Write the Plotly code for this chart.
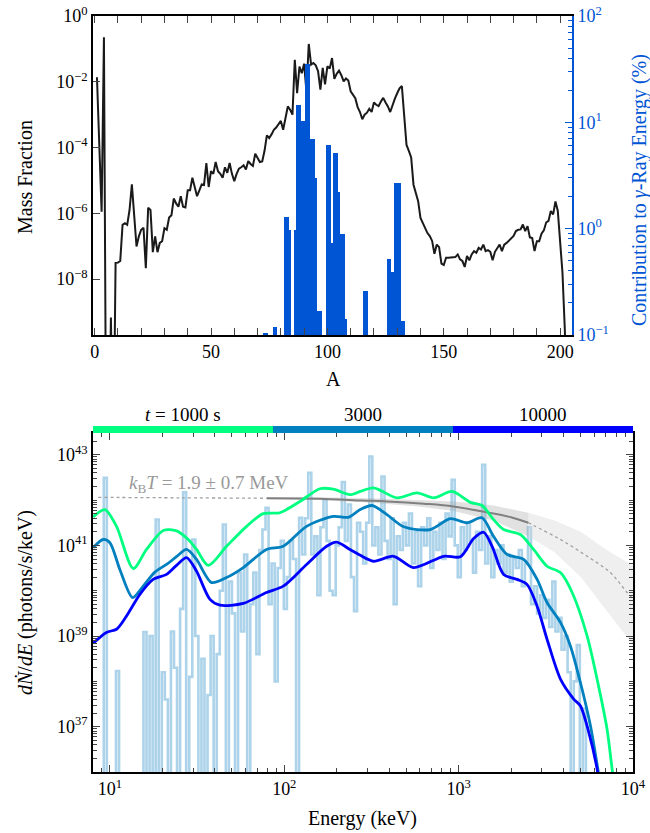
import numpy as np
import plotly.graph_objects as go

# ---------------- top panel data ----------------
mass_A = list(range(1, 204))
mass_log10 = [
    -1.86, -3.9, -5.95, -0.65, -14, -14, -9.17, -14, -7.51, -7.5,
    -7.45, -6.35, -6.3, -6.35, -5.9, -5.12, -6.2, -7.01, -6.7, -6.5,
    -6.44, -7.67, -5.83, -5.9, -7.18, -6.7, -7.18, -6.9, -6.85, -6.45,
    -6.5, -6.13, -6.06, -5.55, -5.7, -5.8, -5.48, -5.8, -5.82, -5.3,
    -5.3, -4.92, -5.2, -5.48, -5.3, -5.12, -5.14, -4.47, -5.2, -4.72,
    -4.8, -4.44, -4.72, -4.8, -4.92, -4.6, -4.77, -4.47, -4.8, -5.02,
    -4.8, -4.64, -4.6, -4.54, -4.67, -4.41, -4.5, -4.56, -4.19, -4.3,
    -4.44, -4.42, -4.1, -3.63, -3.71, -3.6, -3.46, -3.39, -3.3, -3.19,
    -3.46, -3.1, -2.75, -2.85, -3.0, -1.33, -2.35, -1.54, -1.74, -1.45,
    -2.29, -0.85, -1.48, -1.43, -1.5, -1.68, -2.24, -1.58, -2.08, -1.53,
    -1.6, -1.28, -1.91, -1.76, -1.66, -1.8, -1.99, -1.9, -1.96, -2.29,
    -2.39, -2.5, -2.77, -2.92, -3.14, -3.0, -2.94, -2.82, -2.92, -2.63,
    -2.7, -2.74, -2.6, -2.49, -2.63, -2.75, -2.92, -2.7, -2.51, -2.35,
    -2.2, -2.13, -3.01, -3.92, -4.1, -4.3, -5.13, -5.4, -5.63, -6.14,
    -6.3, -6.49, -6.6, -6.69, -6.84, -7.23, -6.95, -7.03, -7.53, -7.57,
    -7.35, -7.35, -7.35, -7.33, -7.33, -7.25, -7.4, -7.45, -7.63, -7.3,
    -7.43, -7.25, -7.15, -7.2, -7.05, -7.1, -6.95, -7.15, -7.12, -7.17,
    -7.43, -7.17, -7.05, -6.95, -7.15, -6.95, -6.9, -6.83, -6.75, -6.69,
    -6.54, -6.5, -6.49, -6.34, -6.54, -6.39, -6.73, -6.75, -7.15, -6.85,
    -6.85, -6.62, -6.52, -6.28, -6.23, -5.93, -6.03, -5.64, -5.93, -6.85,
    -7.8, -9.5, -12,
]
mass_frac = [10.0 ** v for v in mass_log10]

bar_A = [73, 74, 77, 78, 82, 83, 84, 86, 87, 88, 89, 90, 91, 92, 93, 94, 95, 96, 97,
         100, 101, 102, 103, 104, 105, 106, 107, 108, 116, 117,
         126, 127, 128, 129, 130, 131, 132, 133]
bar_pct = [0.105, 0.105, 0.12, 0.12, 1.28, 1.28, 0.97, 0.97, 14.7, 14.7, 10.2, 10.2, 35, 35, 7.0, 7.0, 3.0, 0.17, 0.17,
           6.1, 6.1, 0.74, 5.1, 5.1, 2.2, 0.9, 0.9, 0.14, 0.26, 0.26,
           0.52, 0.52, 0.39, 2.7, 2.7, 2.7, 0.135, 0.135]

# ---------------- bottom panel data ----------------
Z = 30.0  # empty / non-positive bin (drawn off the bottom)
spec_log10 = [
    Z, Z, 42.49, Z, Z, Z, 38.23, Z, Z, Z, Z, Z, Z, Z, Z,
    39.09, Z, 39.0, Z, 41.57, Z, 38.2, 37.6, Z, 39.1, 38.3, Z, 39.6, 42.17, Z,
    38.1, 41.13, 39.0, Z, 38.5, Z, 37.7, 39.0, Z, 38.6, 40.0, 41.46, Z, 40.2, 39.5,
    Z, 40.4, 39.1, 40.8, Z, 39.7, 40.4, 38.6, 40.9, 41.35, 41.83, 39.7, 40.6, 38.0, 40.5,
    41.1, 39.6, 40.3, 41.1, 40.7, Z, 41.61, 40.8, 41.6, 42.6, 40.8, 41.2, 39.9, 41.4, 42.0,
    41.1, 40.0, 39.9, 41.0, 41.4, 42.4, 41.1, 41.9, 40.3, 39.55, 41.5, 41.3, 40.6, 41.5, 42.96,
    41.0, 41.4, 40.8, 42.52, 41.1, 40.7, 41.6, 39.7, 41.2, 40.9, 41.5, 41.0, 41.7, 40.6, 41.3,
    40.1, 41.4, 41.0, 41.6, 40.5, 41.3, 40.9, 41.5, 40.7, 41.7, 41.2, 42.45, 41.0, 40.3, 41.4,
    40.9, 41.5, 41.1, 40.4, 41.3, 40.9, 42.78, 40.6, 41.2, 40.3, 40.9, 40.6, 41.0, 40.4, 40.8,
    40.2, 40.7, 40.5, 40.9, 40.1, 40.6, 41.4, 39.7, 40.1, 39.5, 39.9, 39.4, 39.8, 39.2, 40.2,
    39.1, 39.4, 38.7, 39.0, 38.2, Z, 38.0, 38.8, Z, 37.4, Z,
]
spec_E = [float(v) for v in np.logspace(0.93, 0.93 + 0.0175 * (len(spec_log10) - 1), len(spec_log10))]
spec_flux = [10.0 ** v for v in spec_log10]

green_logE = [0.904, 0.971, 1.038, 1.134, 1.21, 1.306, 1.382, 1.449, 1.497, 1.564, 1.669, 1.784,
              1.879, 1.975, 2.09, 2.205, 2.281, 2.377, 2.436, 2.512, 2.647, 2.761, 2.857, 2.962,
              3.067, 3.134, 3.2, 3.258, 3.354, 3.43, 3.507, 3.584, 3.651, 3.737, 3.794, 3.851, 3.88, 3.9]
green_log = [41.63, 41.79, 41.42, 40.49, 40.91, 41.33, 41.32, 41.13, 40.91, 40.56, 40.98, 41.42,
             41.70, 41.72, 41.97, 42.25, 42.24, 42.12, 42.19, 42.27, 42.05, 42.16, 42.05, 42.19,
             41.95, 41.88, 41.57, 41.35, 41.24, 40.91, 40.54, 40.40, 39.96, 39.0, 38.05, 36.95, 36.07, 35.5]

teal_logE = [0.904, 0.962, 1.0, 1.057, 1.13, 1.191, 1.258, 1.325, 1.382, 1.44, 1.497, 1.583,
             1.669, 1.765, 1.898, 1.994, 2.128, 2.281, 2.367, 2.436, 2.503, 2.589, 2.685, 2.838,
             2.952, 3.048, 3.134, 3.2, 3.278, 3.373, 3.45, 3.507, 3.584, 3.641, 3.698, 3.756, 3.798, 3.82]
teal_log = [40.95, 41.13, 41.06, 40.47, 39.85, 40.10, 40.41, 40.58, 40.75, 40.91, 40.69, 40.18,
            40.29, 40.51, 40.91, 40.98, 41.42, 41.64, 41.62, 41.79, 41.88, 41.68, 41.41, 41.35,
            41.59, 41.50, 41.61, 41.20, 40.80, 40.69, 40.25, 39.74, 39.30, 38.78, 37.98, 37.02, 36.07, 35.5]

blue_logE = [0.904, 0.98, 1.038, 1.095, 1.172, 1.248, 1.325, 1.382, 1.44, 1.497, 1.574, 1.631,
             1.765, 1.898, 1.994, 2.128, 2.243, 2.3, 2.377, 2.436, 2.512, 2.627, 2.742, 2.914,
             3.01, 3.086, 3.143, 3.192, 3.258, 3.335, 3.392, 3.45, 3.507, 3.584, 3.66, 3.698,
             3.746, 3.794, 3.815]
blue_log = [38.84, 39.08, 39.15, 39.44, 39.92, 40.25, 40.36, 40.56, 40.73, 40.43, 39.81, 39.68,
            39.72, 39.96, 40.10, 40.58, 40.98, 41.07, 40.91, 40.78, 40.65, 40.76, 40.51, 40.76,
            40.75, 41.15, 41.29, 40.98, 40.36, 40.25, 40.14, 39.66, 38.93, 38.05, 37.61, 37.46,
            36.88, 36.07, 35.5]

fit_logE = [1.9, 2.2, 2.45, 2.59, 2.8, 2.97, 3.16, 3.3, 3.4]
fit_log = [42.04, 42.03, 41.99, 41.97, 41.92, 41.86, 41.73, 41.62, 41.50]
fitext_lo_logE = [0.933, 1.4, 1.9]
fitext_lo_log = [42.06, 42.05, 42.04]
fitext_hi_logE = [3.4, 3.43, 3.584, 3.737, 3.87, 3.966, 4.0]
fitext_hi_log = [41.50, 41.44, 41.13, 40.76, 40.40, 39.96, 39.82]

band_in_logE = [1.9, 2.2, 2.5, 2.77, 2.97, 3.2, 3.4]
band_in_lo = [42.02, 42.0, 41.94, 41.86, 41.76, 41.55, 41.2]
band_in_hi = [42.06, 42.06, 42.04, 42.0, 41.97, 41.88, 41.72]
band_out_logE = [3.4, 3.55, 3.7, 3.85, 4.0]
band_out_lo = [41.2, 40.85, 40.3, 39.55, 38.8]
band_out_hi = [41.72, 41.55, 41.3, 40.9, 40.55]

times = ["<i>t</i> = 1000 s", "3000", "10000"]
time_colors = ["#00ff80", "#0080bf", "#0000ff"]

# ---------------- figure ----------------
FONT = "Liberation Serif"
BAR_BLUE = "#0055d4"
MINUS = "\u2212"


def sup(e):
    s = str(e).replace("-", MINUS)
    return f"10<sup>{s}</sup>"


def pw(arr):
    return [10.0 ** v for v in arr]


fig = go.Figure()

# top panel
fig.add_trace(go.Bar(x=bar_A, y=bar_pct, width=1.0, marker=dict(color=BAR_BLUE, line=dict(width=0)),
                     xaxis="x", yaxis="y2", showlegend=False))
fig.add_trace(go.Scatter(x=mass_A, y=mass_frac, mode="lines", line=dict(color="#1a1a1a", width=2),
                         xaxis="x", yaxis="y", showlegend=False))

# bottom panel: observed spectrum as a step histogram
fig.add_trace(go.Scatter(x=spec_E + [spec_E[-1] * 10.0 ** 0.0175], y=spec_flux + [spec_flux[-1]],
                         mode="lines", line=dict(color="#acd3e9", width=2.6, shape="hv"),
                         xaxis="x2", yaxis="y3", showlegend=False))


def band(logE, lo, hi, color):
    xs = pw(logE) + pw(logE[::-1])
    ys = pw(hi) + pw(lo[::-1])
    fig.add_trace(go.Scatter(x=xs, y=ys, mode="lines", fill="toself", fillcolor=color,
                             line=dict(width=0), xaxis="x2", yaxis="y3", showlegend=False,
                             hoverinfo="skip"))


band(band_in_logE, band_in_lo, band_in_hi, "rgba(170,170,170,0.35)")
band(band_out_logE, band_out_lo, band_out_hi, "rgba(215,215,215,0.4)")

for lx, ly in [(fitext_lo_logE, fitext_lo_log), (fitext_hi_logE, fitext_hi_log)]:
    fig.add_trace(go.Scatter(x=pw(lx), y=pw(ly), mode="lines",
                             line=dict(color="#a0a0a0", width=1.3, dash="dot", shape="spline"),
                             xaxis="x2", yaxis="y3", showlegend=False))
fig.add_trace(go.Scatter(x=pw(fit_logE), y=pw(fit_log), mode="lines",
                         line=dict(color="#808080", width=2, shape="spline"),
                         xaxis="x2", yaxis="y3", showlegend=False))

for lx, ly, c in [(green_logE, green_log, time_colors[0]),
                  (teal_logE, teal_log, time_colors[1]),
                  (blue_logE, blue_log, time_colors[2])]:
    fig.add_trace(go.Scatter(x=pw(lx), y=pw(ly), mode="lines",
                             line=dict(color=c, width=2.8, shape="spline", smoothing=0.8),
                             xaxis="x2", yaxis="y3", showlegend=False))

TICK_SIZE = 18
TITLE_SIZE = 20
tickfont = dict(family=FONT, size=TICK_SIZE, color="black")


def log_minor(d0, d1, include_decades=False):
    vals = []
    for d in range(d0, d1 + 1):
        for m in range(2, 10):
            vals.append(float(m) * 10.0 ** d)
        if include_decades:
            vals.append(10.0 ** d)
    return vals


top_y0 = (772 - 335) / 756
bot_y1 = (772 - 433) / 756
top_x1 = (572 - 93) / 540

common = dict(showgrid=False, zeroline=False, automargin=False, ticks="inside", ticklen=7, tickwidth=1.2)

fig.update_layout(
    width=650, height=833,
    margin=dict(l=93, r=17, t=16, b=61, autoexpand=False),
    paper_bgcolor="white", plot_bgcolor="white",
    showlegend=False, bargap=0,
    font=dict(family=FONT, size=16, color="black"),
    xaxis=dict(domain=[0, top_x1], anchor="y", range=[-0.7, 205.1],
               tickvals=[0, 50, 100, 150, 200],
               minor=dict(tickvals=list(range(10, 205, 10)), ticks="inside", ticklen=4, tickwidth=1),
               showline=True, linecolor="black", linewidth=1.6, mirror="allticks",
               tickfont=tickfont, **common),
    yaxis=dict(domain=[top_y0, 1], anchor="x", type="log", range=[-9.7, 0],
               tickvals=[1e-8, 1e-6, 1e-4, 1e-2, 1.0], ticktext=[sup(-8), sup(-6), sup(-4), sup(-2), sup(0)],
               showline=True, linecolor="black", linewidth=1.6, mirror=False,
               tickfont=tickfont, **common),
    yaxis2=dict(overlaying="y", side="right", anchor="x", type="log", range=[-1, 2],
                tickvals=[0.1, 1.0, 10.0, 100.0], ticktext=[sup(-1), sup(0), sup(1), sup(2)],
                tickcolor=BAR_BLUE,
                minor=dict(tickvals=log_minor(-1, 1), ticks="inside", ticklen=4, tickwidth=1,
                           tickcolor=BAR_BLUE),
                showline=True, linecolor=BAR_BLUE, linewidth=1.6,
                tickfont=dict(family=FONT, size=TICK_SIZE, color=BAR_BLUE), **common),
    xaxis2=dict(domain=[0, 1], anchor="y3", type="log", range=[float(np.log10(8)), 4],
                tickvals=[10.0, 100.0, 1000.0, 10000.0], ticktext=[sup(1), sup(2), sup(3), sup(4)],
                minor=dict(tickvals=log_minor(0, 3), ticks="inside", ticklen=4, tickwidth=1),
                showline=True, linecolor="black", linewidth=1.6, mirror="allticks",
                tickfont=tickfont, **common),
    yaxis3=dict(domain=[0, bot_y1], anchor="x2", type="log", range=[36, 43.48],
                tickvals=[1e37, 1e39, 1e41, 1e43], ticktext=[sup(37), sup(39), sup(41), sup(43)],
                minor=dict(tickvals=log_minor(36, 43, include_decades=True), ticks="inside",
                           ticklen=4, tickwidth=1),
                showline=True, linecolor="black", linewidth=1.6, mirror="allticks",
                tickfont=tickfont, **common),
)

# time colour bar on top of the bottom panel
shapes = []
annots = []
cb_y0 = bot_y1
cb_y1 = (772 - 426) / 756
for i, (lab, col) in enumerate(zip(times, time_colors)):
    shapes.append(dict(type="rect", xref="paper", yref="paper", x0=i / 3, x1=(i + 1) / 3,
                       y0=cb_y0, y1=cb_y1, fillcolor=col, line=dict(width=0), layer="above"))
    annots.append(dict(text=lab, xref="paper", yref="paper", x=(i + 0.5) / 3, y=(772 - 414) / 756,
                       showarrow=False, xanchor="center", yanchor="middle",
                       font=dict(family=FONT, size=19, color="black")))

# axis titles
annots += [
    dict(text="Mass Fraction", xref="paper", yref="paper", x=(25 - 93) / 540, y=(772 - 177) / 756,
         textangle=-90, showarrow=False, xanchor="center", yanchor="middle",
         font=dict(family=FONT, size=TITLE_SIZE)),
    dict(text="A", xref="paper", yref="paper", x=(333 - 93) / 540, y=(772 - 379) / 756,
         showarrow=False, xanchor="center", yanchor="middle", font=dict(family=FONT, size=TITLE_SIZE)),
    dict(text="Contribution to <i>γ</i>-Ray Energy (%)", xref="paper", yref="paper",
         x=(640 - 93) / 540, y=(772 - 190) / 756, textangle=-90, showarrow=False,
         xanchor="center", yanchor="middle",
         font=dict(family=FONT, size=TITLE_SIZE, color=BAR_BLUE)),
    dict(text="<i>dṄ</i>/<i>dE</i> (photons/s/keV)", xref="paper", yref="paper",
         x=(25 - 93) / 540, y=(772 - 603) / 756, textangle=-90, showarrow=False,
         xanchor="center", yanchor="middle", font=dict(family=FONT, size=TITLE_SIZE)),
    dict(text="Energy (keV)", xref="paper", yref="paper", x=(362 - 93) / 540, y=(772 - 818) / 756,
         showarrow=False, xanchor="center", yanchor="middle", font=dict(family=FONT, size=TITLE_SIZE)),
    dict(text="<i>k</i><sub>B</sub><i>T</i> = 1.9 ± 0.7 MeV", xref="x2", yref="y3",
         x=1.571, y=42.36, showarrow=False, font=dict(family=FONT, size=19, color="#999999")),
]
fig.update_layout(shapes=shapes, annotations=annots)

fig.write_html("out.html", config={"displayModeBar": False},
               post_script="document.body.style.margin='0';document.body.style.overflow='hidden';")
